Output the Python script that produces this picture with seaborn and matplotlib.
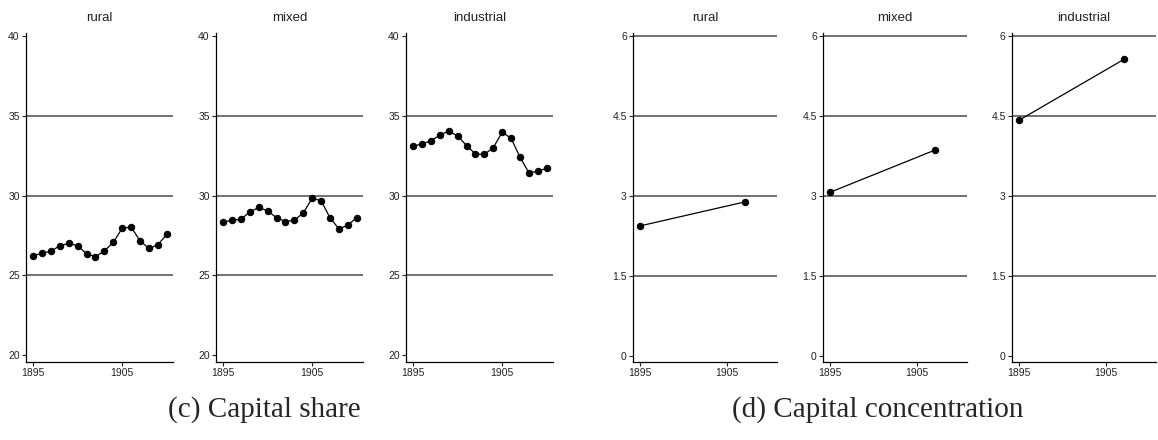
import numpy as np
import pandas as pd
import matplotlib
matplotlib.use("Agg")
import matplotlib.pyplot as plt
import seaborn as sns

# data
regions = ["rural", "mixed", "industrial"]
share_years = list(range(1895, 1911))
share_rural = [26.22, 26.39, 26.51, 26.85, 27.00, 26.85, 26.35, 26.16,
               26.53, 27.06, 27.95, 28.02, 27.16, 26.68, 26.91, 27.56]
share_mixed = [28.33, 28.45, 28.51, 28.97, 29.25, 29.04, 28.60, 28.37,
               28.45, 28.91, 29.83, 29.67, 28.60, 27.91, 28.14, 28.62]
share_industrial = [33.08, 33.25, 33.42, 33.79, 34.04, 33.73, 33.13, 32.60,
                    32.58, 33.00, 33.98, 33.58, 32.40, 31.42, 31.52, 31.71]
conc_years = [1895, 1907]
conc_rural = [2.44, 2.89]
conc_mixed = [3.07, 3.86]
conc_industrial = [4.42, 5.56]

share_ticks = [20, 25, 30, 35, 40]
share_grid = [25, 30, 35]
conc_ticks = [0, 1.5, 3, 4.5, 6]
conc_tick_labels = ["0", "1.5", "3", "4.5", "6"]
conc_grid = [1.5, 3, 4.5, 6]
x_ticks = [1895, 1905]

share_df = pd.DataFrame({
    "year": share_years * 3,
    "value": share_rural + share_mixed + share_industrial,
    "region": np.repeat(regions, len(share_years)),
})
conc_df = pd.DataFrame({
    "year": conc_years * 3,
    "value": conc_rural + conc_mixed + conc_industrial,
    "region": np.repeat(regions, len(conc_years)),
})

sns.set_style("ticks")
plt.rcParams["font.family"] = ["Liberation Sans", "DejaVu Sans"]

W, H = 1158, 440
fig = plt.figure(figsize=(W / 100, H / 100), dpi=100)


def px_axes(left, width, top=33, bottom=362):
    return fig.add_axes([left / W, 1 - bottom / H, width / W, (bottom - top) / H])


def draw_panel(ax, df, region, ylim, yticks, ylabels, grid):
    for g in grid:
        ax.axhline(g, color="#4a4a4a", lw=1.1, zorder=1)
    sns.lineplot(data=df[df["region"] == region], x="year", y="value",
                 color="black", lw=0.9, marker="o", markersize=4.6,
                 markeredgecolor="black", ax=ax, zorder=3)
    ax.set_xlim(1894.2, 1910.7)
    ax.set_ylim(*ylim)
    ax.set_xticks(x_ticks)
    ax.set_yticks(yticks)
    ax.set_yticklabels(ylabels)
    ax.set_xlabel("")
    ax.set_ylabel("")
    ax.set_title(region, fontsize=9.5, color="#222222", pad=9)
    ax.tick_params(labelsize=7.5, length=3, width=0.8, pad=1.5, colors="#222222")
    sns.despine(ax=ax)
    for s in ("left", "bottom"):
        ax.spines[s].set_linewidth(0.9)
        ax.spines[s].set_color("black")


for left, region in zip([26, 216, 406], regions):
    ax = px_axes(left, 147)
    draw_panel(ax, share_df, region, (19.56, 40.19), share_ticks,
               [str(t) for t in share_ticks], share_grid)

for left, region in zip([633, 823, 1012], regions):
    ax = px_axes(left, 144)
    draw_panel(ax, conc_df, region, (-0.11, 6.056), conc_ticks,
               conc_tick_labels, conc_grid)

serif = ["Liberation Serif", "DejaVu Serif"]
fig.text(264 / W, 1 - 410 / H, "(c) Capital share", ha="center", va="center",
         fontsize=21, family=serif)
fig.text(878 / W, 1 - 410 / H, "(d) Capital concentration", ha="center",
         va="center", fontsize=21, family=serif)

fig.savefig("out.png", dpi=100)
